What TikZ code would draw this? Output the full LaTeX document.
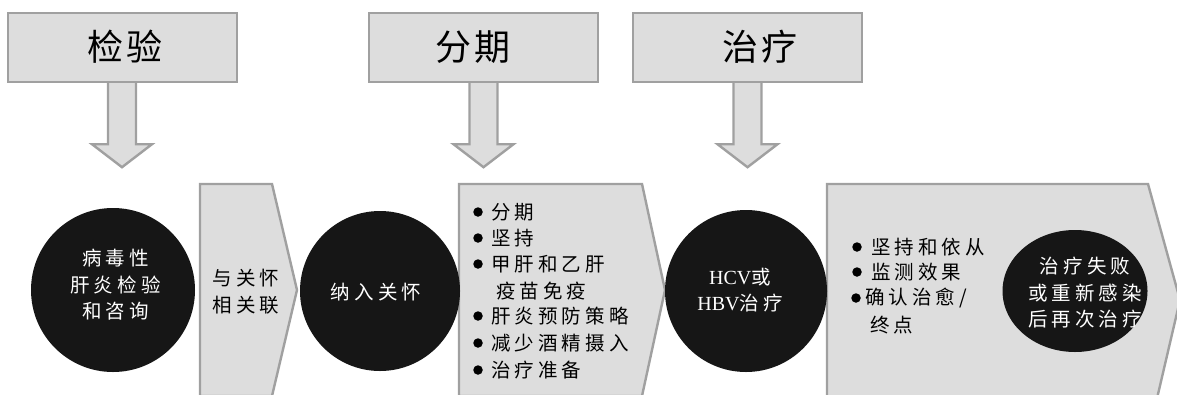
\documentclass[tikz,border=0pt]{standalone}
\usepackage{fontspec}
\newfontfamily\cjk[LetterSpace=21]{Noto Sans CJK SC}
\newfontfamily\cjkbig[LetterSpace=10]{Noto Sans CJK SC}
\newfontfamily\lat{Liberation Serif}
\usetikzlibrary{calc,shapes.geometric}
\definecolor{boxgray}{RGB}{221,221,221}
\definecolor{edgegray}{RGB}{160,160,160}
\definecolor{blobblack}{RGB}{22,22,22}
\begin{document}
\begin{tikzpicture}[x=1pt,y=-1pt,
  box/.style={fill=boxgray,draw=edgegray,line width=2.4pt,line join=miter},
  topbox/.style={box,minimum width=229pt,minimum height=69pt,inner sep=0pt},
  blob/.style={circle,fill=blobblack,draw=none,inner sep=0pt},
  txt/.style={font=\cjk\fontsize{19.5}{26.5}\selectfont,inner sep=0pt,align=center},
  wtxt/.style={txt,text=white},
  title/.style={font=\cjkbig\fontsize{36}{40}\selectfont,inner sep=0pt},
  item/.style={txt,anchor=west},
  dot/.style={circle,fill=black,inner sep=0pt,minimum size=9.5pt}]
\useasboundingbox (0,0) rectangle (1177,394);
\clip (0,0) rectangle (1177,394);
\fill[white] (0,0) rectangle (1177,394);

% top boxes
\node[topbox,draw=none,fill=none] (t1) at (122.5,47.5) {};
\node[topbox,draw=none,fill=none] (t2) at (483.5,47.5) {};
\node[topbox,draw=none,fill=none] (t3) at (747.5,47.5) {};
% down arrows
\foreach \t/\dx in {t1/-0.5,t2/0,t3/0}{
  \draw[box] ($(\t.south)+(\dx-14,0)$) -- ++(0,61) -- ++(-16,0) -- ++(30,23) -- ++(30,-23) -- ++(-16,0) -- ++(0,-61);
}
\node[topbox] at (t1) {};
\node[topbox] at (t2) {};
\node[topbox] at (t3) {};
\node[title] (h1) at (125,47) {检验};
\node[title] (h2) at (473,47) {分期};
\node[title] (h3) at (760,47) {治疗};

% chevrons
\draw[box] (200,184) -- (272,184) -- (297,290) -- (272,396) -- (200,396) -- cycle;
\draw[box] (459,184) -- (642,184) -- (665,290) -- (642,396) -- (459,396) -- cycle;
\draw[box] (827,184) -- (1148,184) -- (1180,300) -- (1155,407) -- (827,407) -- cycle;

% circles
\node[blob,minimum size=164pt] (c1) at (113,290) {};
\node[blob,minimum size=160pt] (c2) at (380,291) {};
\node[blob,minimum size=162pt] (c3) at (746,291) {};
\node[ellipse,fill=blobblack,inner sep=0pt,minimum width=145pt,minimum height=122pt] (c4) at (1075,291) {};

% texts in circles and chevrons
\node[wtxt] (l1) at (115.5,285) {病毒性\\肝炎检验\\和咨询};
\node[txt] (l2) at (246,291.5) {与关怀\\相关联};
\node[wtxt] (l3) at (376,292) {纳入关怀};
\node[wtxt] (l4) at (740,290) {{\lat\fontsize{20}{26.5}\selectfont HCV}或\\{\lat\fontsize{20}{26.5}\selectfont HBV}治疗};
\node[wtxt] (l5) at (1085,293) {治疗失败\\或重新感染\\后再次治疗};

% list in second chevron
\node[item] (p1) at (491,212) {分期};
\node[item] (p2) at (491,238) {坚持};
\node[item] (p3) at (491,264) {甲肝和乙肝};
\node[item] (p3b) at (496,291) {疫苗免疫};
\node[item] (p4) at (491,316) {肝炎预防策略};
\node[item] (p5) at (491,343) {减少酒精摄入};
\node[item] (p6) at (491,370) {治疗准备};
\foreach \p in {p1,p2,p3,p4,p5,p6}{
  \node[dot] (d\p) at ($(\p.west)+(-13,0)$) {};
}

% list in third chevron
\node[item] (q1) at (871,247) {坚持和依从};
\node[item] (q2) at (871,272) {监测效果};
\node[item] (q3) at (865,298) {确认治愈/};
\node[item] (q3b) at (870,325) {终点};
\node[dot] (dq1) at (857,247) {};
\node[dot] (dq2) at (857,272) {};
\node[dot] (dq3) at (856,298) {};
\end{tikzpicture}
\end{document}
